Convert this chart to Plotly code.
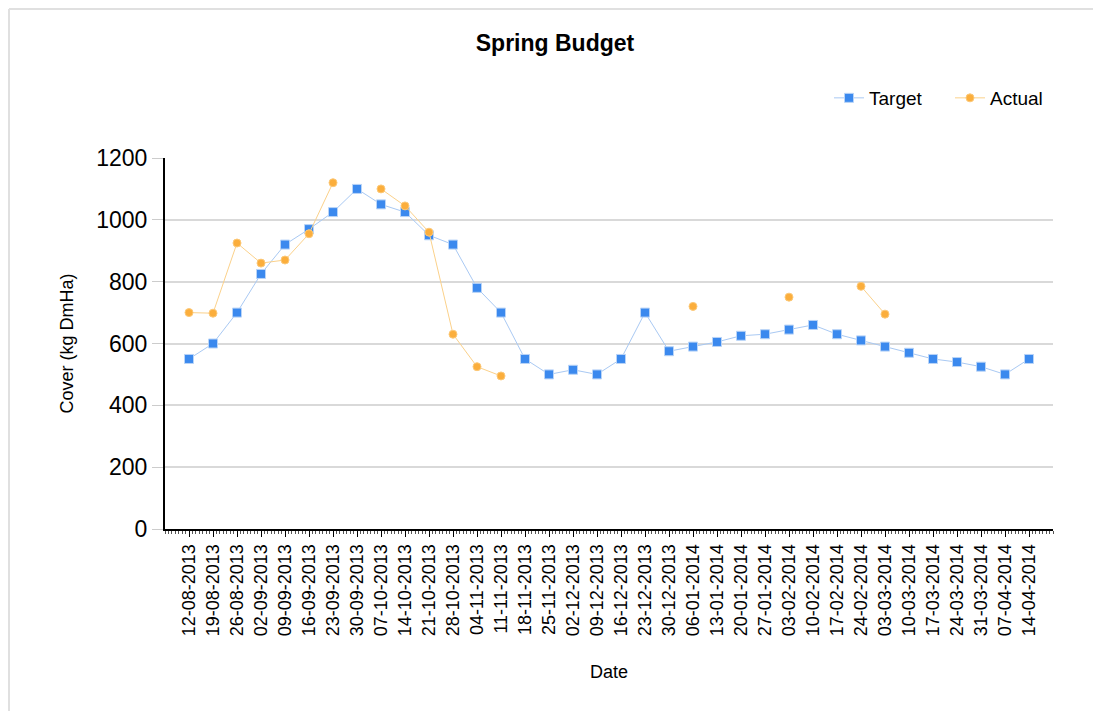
import plotly.graph_objects as go

dates = [
    "2013-08-12", "2013-08-19", "2013-08-26", "2013-09-02", "2013-09-09", "2013-09-16",
    "2013-09-23", "2013-09-30", "2013-10-07", "2013-10-14", "2013-10-21", "2013-10-28",
    "2013-11-04", "2013-11-11", "2013-11-18", "2013-11-25", "2013-12-02", "2013-12-09",
    "2013-12-16", "2013-12-23", "2013-12-30", "2014-01-06", "2014-01-13", "2014-01-20",
    "2014-01-27", "2014-02-03", "2014-02-10", "2014-02-17", "2014-02-24", "2014-03-03",
    "2014-03-10", "2014-03-17", "2014-03-24", "2014-03-31", "2014-04-07", "2014-04-14",
]
target = [550, 600, 700, 825, 920, 970, 1025, 1100, 1050, 1025, 950, 920,
          780, 700, 550, 500, 515, 500, 550, 700, 575, 590, 605, 625,
          630, 645, 660, 630, 610, 590, 570, 550, 540, 525, 500, 550]
actual = [700, 698, 925, 860, 870, 955, 1120, None, 1100, 1045, 960, 630,
          525, 495, None, None, None, None, None, None, None, 720, None, None,
          None, 750, None, None, 785, 695, None, None, None, None, None, None]

# page is offset by the 8px body margin
OFF = 8
W, H = 1101 - OFF, 711 - OFF
L, R, T, B = 165 - OFF, 1053 - OFF, 158 - OFF, 529 - OFF

fig = go.Figure()
fig.add_trace(go.Scatter(
    x=dates, y=target, name="Target", mode="lines+markers",
    line=dict(color="#a9c9f3", width=1),
    marker=dict(symbol="square", size=9, color="#3b89ee",
                line=dict(color="#b9d4f7", width=1)),
))
fig.add_trace(go.Scatter(
    x=dates, y=actual, name="Actual", mode="lines+markers", connectgaps=False,
    line=dict(color="#fbd18a", width=1),
    marker=dict(symbol="circle", size=8, color="#fbae3c",
                line=dict(color="#fcc979", width=1)),
))

def px_x(p):
    return (p - OFF - L) / (R - L)

def px_y(p):
    return (B - (p - OFF)) / (B - T)

fig.add_shape(type="line", xref="paper", yref="paper",
              x0=px_x(9), x1=px_x(1101), y0=px_y(9), y1=px_y(9),
              line=dict(color="#e0e0e0", width=2))
fig.add_shape(type="line", xref="paper", yref="paper",
              x0=px_x(9), x1=px_x(9), y0=px_y(9), y1=px_y(711),
              line=dict(color="#e0e0e0", width=2))

fig.update_layout(
    width=W, height=H,
    margin=dict(l=L, r=W - R, t=T, b=H - B, pad=0),
    paper_bgcolor="white", plot_bgcolor="white",
    font=dict(family="Liberation Sans, Arial, sans-serif", color="black"),
    title=dict(text="<b>Spring Budget</b>", x=(555 - OFF) / W, xanchor="center",
               y=1 - (43 - OFF) / H, yanchor="middle", font=dict(size=23)),
    legend=dict(orientation="h", x=px_x(1071), xanchor="right", y=px_y(98), yanchor="middle",
                font=dict(size=19), bgcolor="rgba(0,0,0,0)",
                entrywidth=76, entrywidthmode="pixels"),
    showlegend=True,
)
fig.update_xaxes(
    type="date", range=["2013-08-05", "2014-04-21"],
    tickmode="array", tickvals=dates, tickformat="%d-%m-%Y",
    tickangle=-90, tickfont=dict(size=18),
    ticks="outside", ticklen=6, tickcolor="black", tickwidth=1,
    minor=dict(tickmode="linear", tick0="2013-08-05", dtick=86400000,
               ticks="outside", ticklen=3, tickcolor="#555555", tickwidth=1),
    showline=True, linecolor="black", linewidth=2, showgrid=False, zeroline=False,
    title=dict(text="Date", font=dict(size=18), standoff=30),
)
fig.update_yaxes(
    range=[0, 1200], dtick=200, tickfont=dict(size=23),
    ticks="outside", ticklen=11, tickcolor="#cccccc", tickwidth=1,
    showline=True, linecolor="black", linewidth=2,
    showgrid=True, gridcolor="#d9d9d9", gridwidth=2, zeroline=False,
    title=dict(text="Cover (kg DmHa)", font=dict(size=18), standoff=18),
)

fig.write_html("out.html")
